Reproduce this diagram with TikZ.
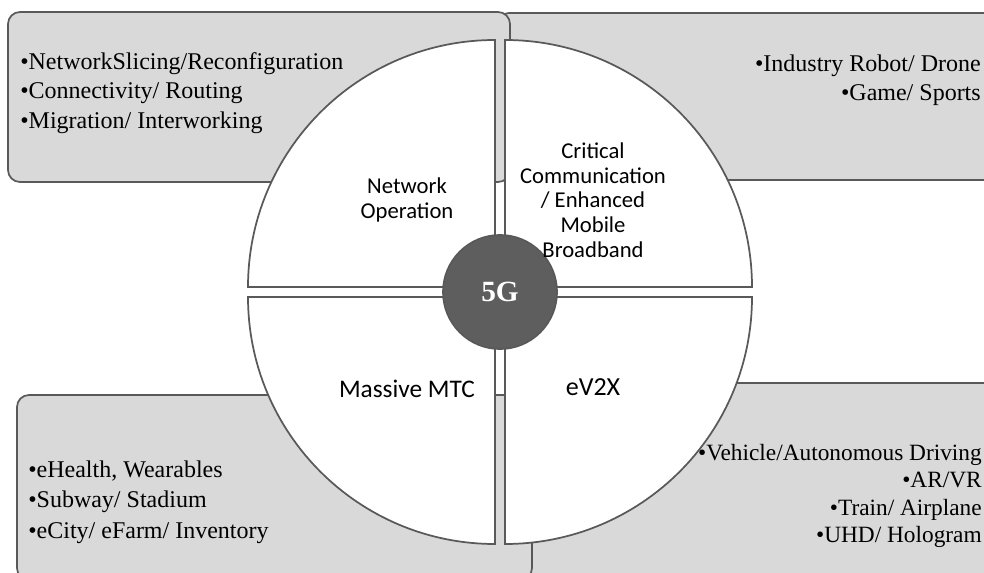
\documentclass[tikz,border=0pt]{standalone}
\usepackage{fontspec}
\setmainfont{Liberation Serif}
\newfontfamily\calib{Carlito}
\definecolor{panelgray}{HTML}{D9D9D9}
\definecolor{edgegray}{HTML}{595959}
\definecolor{coregray}{HTML}{5E5E5E}

\begin{document}
\begin{tikzpicture}[x=0.75pt,y=0.75pt,
    panel/.style={draw=edgegray,fill=panelgray,line width=1.3pt,rounded corners=9pt},
    quad/.style={draw=edgegray,fill=white,line width=1.3pt},
    sector/.style={font=\calib\fontsize{17}{18.5}\selectfont,align=center,inner sep=0pt},
    uses/.style={font=\fontsize{18}{22}\selectfont,inner sep=0pt}]
    \useasboundingbox (0,0) rectangle (984,572);
    \clip (0,0) rectangle (984,572);
    % grey boxes behind the disc
    \draw[panel] (497,392) rectangle (1000,559);
    \draw[panel] (8,390) rectangle (510,560);
    \draw[panel] (508,-12) rectangle (1000,189);
    \draw[panel] (17,-8) rectangle (532,177);
    % four quarters of the disc
    \coordinate (c) at (500,280);
    \foreach \a in {0,90,180,270}
      \draw[quad] ([shift={(\a+45:7.07)}]c) -- +(\a:247) arc[start angle=\a,end angle=\a+90,radius=247] -- cycle;
    \node[circle,draw=edgegray,fill=coregray,line width=1.3pt,minimum size=114*0.75pt,
      text=white,font=\bfseries\fontsize{22}{24}\selectfont] (core) at (c) {5G};
    % sector names
    \node[sector] (netop) at (407,372) {Network\\Operation};
    \node[sector] (critical) at (593,372) {Critical\\Communication\\/ Enhanced\\Mobile\\Broadband};
    \node[sector,font=\calib\fontsize{19}{21}\selectfont] (mmtc) at (407,183) {Massive MTC};
    \node[sector,font=\calib\fontsize{19.5}{21}\selectfont] (ev2x) at (593,185) {eV2X};
    % use cases
    \node[uses,anchor=west,align=left] (opuses) at (20,479) {•NetworkSlicing/Reconfiguration\\•Connectivity/ Routing\\•Migration/ Interworking};
    \node[uses,anchor=east,align=right] (ccuses) at (981,492) {•Industry Robot/ Drone\\•Game/ Sports};
    \node[uses,anchor=west,align=left,font=\fontsize{18}{23}\selectfont] (mtcuses) at (28,70) {•eHealth, Wearables\\•Subway/ Stadium\\•eCity/ eFarm/ Inventory};
    \node[uses,anchor=east,align=right,font=\fontsize{17.5}{20.6}\selectfont] (v2xuses) at (982,76) {•Vehicle/Autonomous Driving\\•AR/VR\\•Train/ Airplane\\•UHD/ Hologram};
\end{tikzpicture}
\end{document}
